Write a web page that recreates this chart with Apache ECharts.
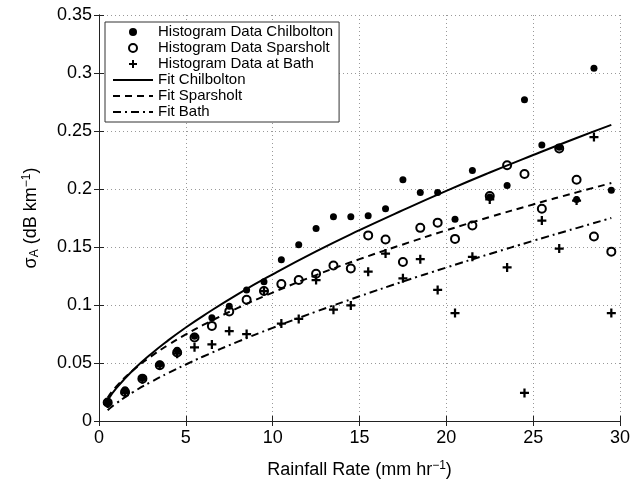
<!DOCTYPE html>
<html>
<head>
<meta charset="utf-8">
<script src="https://cdn.jsdelivr.net/npm/echarts@6/dist/echarts.min.js"></script>
<style>html,body{margin:0;padding:0;background:#fff}#c{width:643px;height:484px}</style>
</head>
<body>
<div id="c"></div>
<script>
// Rainfall rate bins (mm/hr)
const rainRate = [0.5,1.5,2.5,3.5,4.5,5.5,6.5,7.5,8.5,9.5,10.5,11.5,12.5,13.5,14.5,15.5,16.5,17.5,18.5,19.5,20.5,21.5,22.5,23.5,24.5,25.5,26.5,27.5,28.5,29.5];
const chilbolton = [0.016,0.027,0.037,0.049,0.061,0.073,0.089,0.099,0.113,0.120,0.139,0.152,0.166,0.176,0.176,0.177,0.183,0.208,0.197,0.197,0.174,0.216,0.193,0.203,0.277,0.238,0.236,0.191,0.304,0.199];
const sparsholt = [0.016,0.025,0.0365,0.048,0.059,0.072,0.082,0.0945,0.1045,0.112,0.118,0.1215,0.127,0.134,0.1315,0.160,0.1565,0.137,0.1665,0.171,0.157,0.1685,0.194,0.2205,0.213,0.183,0.235,0.208,0.159,0.146];
const bath = [0.015,0.024,0.036,0.048,0.058,0.0635,0.066,0.0775,0.075,0.112,0.084,0.088,0.1215,0.096,0.0996,0.1287,0.1443,0.123,0.1395,0.113,0.093,0.1415,0.191,0.1324,0.0242,0.1728,0.1486,0.190,0.2448,0.093];
// Fit curves
const fitX = [0.5,1,2,3,4,5,6,8,10,12.5,15,17.5,20,22.5,25,27.5,29.5];
const fitChilbolton = [0.018,0.0283,0.0444,0.0578,0.0697,0.0806,0.0907,0.1094,0.1264,0.1462,0.1645,0.1818,0.1984,0.2142,0.2293,0.2440,0.2553];
const fitSparsholt = [0.0201,0.0298,0.0442,0.0557,0.0657,0.0746,0.0828,0.0975,0.1107,0.1258,0.1395,0.1522,0.1644,0.1758,0.1867,0.1971,0.2051];
const fitBath = [0.0093,0.0153,0.0252,0.0337,0.0415,0.0487,0.0556,0.0684,0.0803,0.0943,0.1075,0.1202,0.1323,0.1440,0.1553,0.1663,0.1750];
const xTicks = [0,5,10,15,20,25,30];
const yTicks = [0,0.05,0.1,0.15,0.2,0.25,0.3,0.35];

const zip = (xs, ys) => xs.map((x, i) => [x, ys[i]]);
const FONT = '"Liberation Sans", Arial, Helvetica, sans-serif';
const plusPath = 'path://M3,0h2v3h3v2h-3v3h-2v-3h-3v-2h3z';
const noMark = {color: 'rgba(0,0,0,0)', borderColor: 'rgba(0,0,0,0)', borderWidth: 0};

const chart = echarts.init(document.getElementById('c'), null, {renderer: 'canvas'});
const axisCommon = {
  axisLine: {show: true, lineStyle: {color: '#222', width: 1}},
  axisTick: {show: true, inside: true, length: 5, lineStyle: {color: '#222'}},
};
chart.setOption({
  animation: false,
  backgroundColor: '#fff',
  textStyle: {fontFamily: FONT},
  grid: {left: 99, right: 23, top: 15, bottom: 59, containLabel: false},
  legend: {
    orient: 'vertical', left: 105, top: 22,
    padding: [2, 6, 2, 7], itemGap: 0, itemWidth: 40, itemHeight: 8,
    backgroundColor: '#fff', borderColor: '#333', borderWidth: 1,
    textStyle: {fontFamily: FONT, fontSize: 15, color: '#000', lineHeight: 16},
    data: [
      {name: 'Histogram Data Chilbolton'},
      {name: 'Histogram Data Sparsholt'},
      {name: 'Histogram Data at Bath'},
      {name: 'Fit Chilbolton', itemStyle: noMark},
      {name: 'Fit Sparsholt', itemStyle: noMark},
      {name: 'Fit Bath', itemStyle: noMark}
    ]
  },
  xAxis: [{
    type: 'value', min: 0, max: 30, interval: 5,
    name: '{t|Rainfall Rate (mm hr}{sup|−1}{t|)}', nameLocation: 'middle', nameGap: 39,
    nameTextStyle: {rich: {t: {fontSize: 18, fontFamily: FONT, color: '#000'}, sup: {fontSize: 12, fontFamily: FONT, color: '#000', verticalAlign: 'top', padding: [0,0,8,0]}}},
    ...axisCommon,
    axisLabel: {fontSize: 18, color: '#000', margin: 8, fontFamily: FONT, formatter: v => xTicks.includes(v) ? String(v) : ''},
    splitLine: {show: true, lineStyle: {color: '#999', type: [1, 3], width: 1}}
  }, {
    type: 'value', min: 0, max: 30, interval: 5, position: 'top',
    ...axisCommon, axisLabel: {show: false}, splitLine: {show: false}
  }],
  yAxis: [{
    type: 'value', min: 0, max: 0.35, interval: 0.05,
    name: '{t|σ}{sub|A}{t| (dB km}{sup|−1}{t|)}', nameLocation: 'middle', nameGap: 58, nameRotate: 90,
    nameTextStyle: {rich: {t: {fontSize: 18, fontFamily: FONT, color: '#000'}, sub: {fontSize: 12, fontFamily: FONT, color: '#000', padding: [8,0,0,0]}, sup: {fontSize: 12, fontFamily: FONT, color: '#000', padding: [0,0,8,0]}}},
    ...axisCommon,
    axisLabel: {fontSize: 18, color: '#000', margin: 7, fontFamily: FONT, formatter: v => String(+v.toFixed(2))},
    splitLine: {show: true, lineStyle: {color: '#999', type: [1, 3], width: 1}}
  }, {
    type: 'value', min: 0, max: 0.35, interval: 0.05, position: 'right',
    ...axisCommon, axisLabel: {show: false}, splitLine: {show: false}
  }],
  series: [
    {name: 'Histogram Data Chilbolton', type: 'scatter', symbol: 'circle', symbolSize: 7,
     itemStyle: {color: '#000', opacity: 1}, data: zip(rainRate, chilbolton), z: 3},
    {name: 'Histogram Data Sparsholt', type: 'scatter', symbol: 'circle', symbolSize: 8,
     itemStyle: {color: 'rgba(0,0,0,0)', borderColor: '#000', borderWidth: 2, opacity: 1}, data: zip(rainRate, sparsholt), z: 3},
    {name: 'Histogram Data at Bath', type: 'scatter', symbol: plusPath, symbolSize: 9,
     itemStyle: {color: '#000', opacity: 1}, data: zip(rainRate, bath), z: 3},
    {name: 'Fit Chilbolton', type: 'line', showSymbol: false, symbol: 'none', smooth: true,
     lineStyle: {color: '#000', width: 2, type: 'solid'}, itemStyle: {color: '#000'}, data: zip(fitX, fitChilbolton), z: 4},
    {name: 'Fit Sparsholt', type: 'line', showSymbol: false, symbol: 'none', smooth: true,
     lineStyle: {color: '#000', width: 2, type: [7, 5]}, itemStyle: {color: '#000'}, data: zip(fitX, fitSparsholt), z: 4},
    {name: 'Fit Bath', type: 'line', showSymbol: false, symbol: 'none', smooth: true,
     lineStyle: {color: '#000', width: 2, type: [8, 4, 2, 4]}, itemStyle: {color: '#000'}, data: zip(fitX, fitBath), z: 4}
  ]
});
</script>
</body>
</html>
